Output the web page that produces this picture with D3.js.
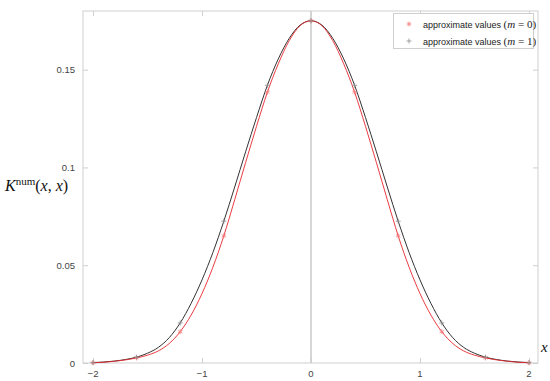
<!DOCTYPE html>
<html>
<head>
<meta charset="utf-8">
<script src="https://cdn.jsdelivr.net/npm/d3@7"></script>
<style>
body { margin: 0; background: #fff; }
svg text { font-family: "Liberation Sans", Arial, sans-serif; }
</style>
</head>
<body>
<svg id="chart" width="550" height="381"></svg>
<script>
// sample points along x
var xs = [-2, -1.9, -1.8, -1.7, -1.6, -1.5, -1.4, -1.3, -1.2, -1.1, -1, -0.9, -0.8, -0.7, -0.6, -0.5, -0.4, -0.3, -0.2, -0.1,
	0, 0.1, 0.2, 0.3, 0.4, 0.5, 0.6, 0.7, 0.8, 0.9, 1, 1.1, 1.2, 1.3, 1.4, 1.5, 1.6, 1.7, 1.8, 1.9, 2];
// m = 1 (black line, gray plus)
var kM1 = [0.0002, 0.0005, 0.0010, 0.0018, 0.0030, 0.0050, 0.0080, 0.0130, 0.0205, 0.0305, 0.0425, 0.0565, 0.0725, 0.0900, 0.1080, 0.1255, 0.1420, 0.1555, 0.1660, 0.1728,
	0.1750, 0.1728, 0.1660, 0.1555, 0.1420, 0.1255, 0.1080, 0.0900, 0.0725, 0.0565, 0.0425, 0.0305, 0.0205, 0.0130, 0.0080, 0.0050, 0.0030, 0.0018, 0.0010, 0.0005, 0.0002];
// m = 0 (red line, red asterisk)
var kM0 = [0.0001, 0.0004, 0.0009, 0.0016, 0.0026, 0.0040, 0.0062, 0.0100, 0.0160, 0.0245, 0.0355, 0.0490, 0.0650, 0.0835, 0.1025, 0.1210, 0.1385, 0.1530, 0.1648, 0.1725,
	0.1750, 0.1725, 0.1648, 0.1530, 0.1385, 0.1210, 0.1025, 0.0835, 0.0650, 0.0490, 0.0355, 0.0245, 0.0160, 0.0100, 0.0062, 0.0040, 0.0026, 0.0016, 0.0009, 0.0004, 0.0001];
var xTicks = [-2, -1, 0, 1, 2];
var yTicks = [0, 0.05, 0.1, 0.15];
var yTickLabels = ["0", "0.05", "0.1", "0.15"];
var legendLabels = ["approximate values ", "approximate values "];
var legendMath = ["(m = 0)", "(m = 1)"];

var svg = d3.select("#chart");
var plotL = 83, plotR = 538, plotT = 11, plotB = 363;

var x = d3.scaleLinear().domain([-2, 2]).range([93, 529]);
var y = d3.scaleLinear().domain([0, 0.18]).range([plotB, plotT]);

var frameColor = "#cfcfcf";

// frame
svg.append("rect")
	.attr("x", plotL).attr("y", plotT)
	.attr("width", plotR - plotL).attr("height", plotB - plotT)
	.attr("fill", "none").attr("stroke", frameColor).attr("stroke-width", 1);

// vertical zero line
svg.append("line")
	.attr("x1", x(0)).attr("x2", x(0))
	.attr("y1", plotT).attr("y2", plotB)
	.attr("stroke", "#c8c8c8").attr("stroke-width", 1.5);

// ticks (inward, mirrored)
var xb = svg.append("g").attr("transform", "translate(0," + plotB + ")")
	.call(d3.axisTop(x).tickValues(xTicks).tickSize(5).tickFormat(""));
var xt = svg.append("g").attr("transform", "translate(0," + plotT + ")")
	.call(d3.axisBottom(x).tickValues(xTicks).tickSize(5).tickFormat(""));
var yl = svg.append("g").attr("transform", "translate(" + plotL + ",0)")
	.call(d3.axisRight(y).tickValues(yTicks).tickSize(5).tickFormat(""));
var yr = svg.append("g").attr("transform", "translate(" + plotR + ",0)")
	.call(d3.axisLeft(y).tickValues(yTicks).tickSize(5).tickFormat(""));
[xb, xt, yl, yr].forEach(function (g) {
	g.select(".domain").remove();
	g.selectAll("line").attr("stroke", frameColor);
});

// tick labels
svg.selectAll("text.xtick").data(xTicks).enter().append("text")
	.attr("class", "xtick")
	.attr("x", function (d) { return x(d); })
	.attr("y", plotB + 14)
	.attr("text-anchor", "middle")
	.attr("font-size", 9.5).attr("fill", "#444")
	.text(function (d) { return d < 0 ? "\u2212" + (-d) : d; });

svg.selectAll("text.ytick").data(yTicks).enter().append("text")
	.attr("class", "ytick")
	.attr("x", 75)
	.attr("y", function (d) { return y(d) + 3.5; })
	.attr("text-anchor", "end")
	.attr("font-size", 9.5).attr("fill", "#444")
	.text(function (d, i) { return yTickLabels[i]; });

// axis titles
var ylab = svg.append("text")
	.attr("x", 5).attr("y", 191)
	.style("font-family", "'Liberation Serif', 'DejaVu Serif', serif")
	.attr("font-size", 16).attr("fill", "#111");
ylab.append("tspan").attr("font-style", "italic").text("K");
ylab.append("tspan").attr("font-size", 11).attr("dy", -6).text("num");
ylab.append("tspan").attr("dy", 6).text("(");
ylab.append("tspan").attr("font-style", "italic").text("x");
ylab.append("tspan").text(", ");
ylab.append("tspan").attr("font-style", "italic").text("x");
ylab.append("tspan").text(")");

svg.append("text")
	.attr("x", 541).attr("y", 352)
	.style("font-family", "'Liberation Serif', 'DejaVu Serif', serif")
	.attr("font-style", "italic")
	.attr("font-size", 15).attr("fill", "#111")
	.text("x");

// curves
var line = d3.line()
	.x(function (d) { return x(d[0]); })
	.y(function (d) { return y(d[1]); })
	.curve(d3.curveMonotoneX);

var dataM1 = d3.zip(xs, kM1);
var dataM0 = d3.zip(xs, kM0);

svg.append("path").datum(dataM1).attr("d", line)
	.attr("fill", "none").attr("stroke", "#333").attr("stroke-width", 1);
svg.append("path").datum(dataM0).attr("d", line)
	.attr("fill", "none").attr("stroke", "#e8262b").attr("stroke-width", 0.9);

// markers every 0.4
function onGrid(d) { return Math.abs(Math.round(d[0] / 0.4) * 0.4 - d[0]) < 1e-6; }

function asterisk(g, cx, cy, r, color) {
	for (var k = 0; k < 3; k++) {
		var a = k * Math.PI / 3 + Math.PI / 2;
		g.append("line")
			.attr("x1", cx - r * Math.cos(a)).attr("y1", cy - r * Math.sin(a))
			.attr("x2", cx + r * Math.cos(a)).attr("y2", cy + r * Math.sin(a))
			.attr("stroke", color).attr("stroke-width", 0.8);
	}
}
function cross(g, cx, cy, r, color) {
	g.append("line").attr("x1", cx - r).attr("x2", cx + r).attr("y1", cy).attr("y2", cy)
		.attr("stroke", color).attr("stroke-width", 0.8);
	g.append("line").attr("x1", cx).attr("x2", cx).attr("y1", cy - r).attr("y2", cy + r)
		.attr("stroke", color).attr("stroke-width", 0.8);
}

var mk = svg.append("g");
dataM0.filter(onGrid).forEach(function (d) { asterisk(mk, x(d[0]), y(d[1]), 2.5, "#f37a7a"); });
dataM1.filter(onGrid).forEach(function (d) { cross(mk, x(d[0]), y(d[1]), 2.5, "#8a8a8a"); });

// legend
var lg = svg.append("g");
lg.append("rect")
	.attr("x", 393.5).attr("y", 13.5).attr("width", 140).attr("height", 35)
	.attr("fill", "#fff").attr("stroke", frameColor).attr("stroke-width", 1);
var rowsY = [24, 41];
asterisk(lg, 409, rowsY[0], 2.5, "#f37a7a");
cross(lg, 409, rowsY[1], 2.5, "#8a8a8a");
for (var i = 0; i < 2; i++) {
	var t = lg.append("text")
		.attr("x", 423).attr("y", rowsY[i] + 3.5)
		.attr("font-size", 9).attr("fill", "#222");
	t.append("tspan").text(legendLabels[i]);
	var m = t.append("tspan")
		.style("font-family", "'Liberation Serif', 'DejaVu Serif', serif")
		.attr("font-size", 11);
	m.append("tspan").text("(");
	m.append("tspan").attr("font-style", "italic").text("m");
	m.append("tspan").text(legendMath[i].slice(2));
}
</script>
</body>
</html>
